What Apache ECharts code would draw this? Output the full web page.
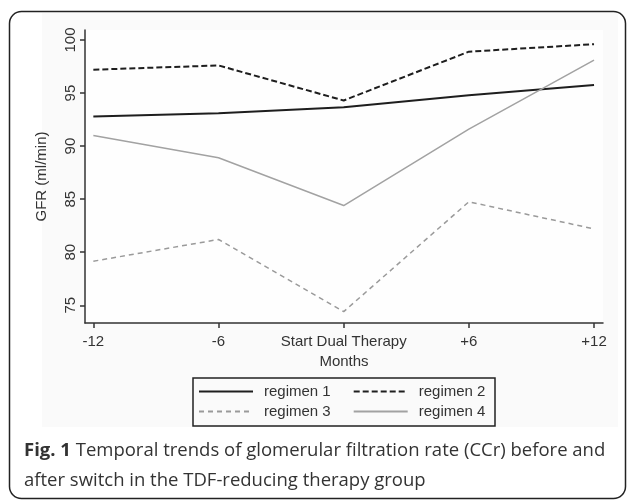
<!DOCTYPE html>
<html>
<head>
<meta charset="utf-8">
<script src="https://cdn.jsdelivr.net/npm/echarts@6/dist/echarts.min.js"></script>
<style>
  html, body { margin: 0; padding: 0; background: #fff; }
  #chart { width: 630px; height: 500px; }
</style>
</head>
<body>
<div id="chart"></div>
<script>
// months relative to switch
var months = [-12, -6, 0, 6, 12];
var monthLabels = ['-12', '-6', 'Start Dual Therapy', '+6', '+12'];
var yTicks = [75, 80, 85, 90, 95, 100];

// GFR (ml/min)
var regimen1 = [92.8, 93.1, 93.65, 94.8, 95.75];
var regimen2 = [97.2, 97.6, 94.3, 98.9, 99.6];
var regimen3 = [79.15, 81.2, 74.4, 84.75, 82.2];
var regimen4 = [91.0, 88.9, 84.4, 91.6, 98.1];

var names = ['regimen 1', 'regimen 2', 'regimen 3', 'regimen 4'];

function pairs(vals) {
  return months.map(function (m, i) { return [m, vals[i]]; });
}

var font = '"Liberation Sans", Arial, sans-serif';

var myChart = echarts.init(document.getElementById('chart'));

var lineCfg = [
  { data: regimen1, color: '#1e1e1e', width: 2, type: 'solid' },
  { data: regimen2, color: '#1e1e1e', width: 2, type: [6, 3] },
  { data: regimen3, color: '#9a9a9a', width: 1.5, type: [5, 4] },
  { data: regimen4, color: '#a2a2a2', width: 1.5, type: 'solid' }
];

// legend rows, no marker symbol, only the line sample
function legendRow(items, top) {
  return {
    data: items, left: 198, top: top, padding: 0,
    itemWidth: 54, itemHeight: 14, itemGap: 22,
    itemStyle: { opacity: 0 },
    textStyle: { fontFamily: font, fontSize: 15, color: '#333', padding: [0, 0, 0, 6] }
  };
}

var option = {
  animation: false,
  backgroundColor: '#fff',
  title: {
    left: 24,
    top: 436,
    padding: 0,
    text: '{b|Fig. 1} Temporal trends of glomerular filtration rate (CCr) before and\nafter switch in the TDF-reducing therapy group',
    textStyle: {
      fontFamily: '"Open Sans", sans-serif',
      fontSize: 18.5,
      fontWeight: 'normal',
      color: '#333',
      lineHeight: 30,
      rich: {
        b: { fontFamily: '"Open Sans", sans-serif', fontSize: 18.5, fontWeight: 'bold', color: '#333', lineHeight: 30 }
      }
    }
  },
  graphic: [
    {
      type: 'rect', z: -10, silent: true,
      shape: { x: 42, y: 13, width: 576, height: 414 },
      style: { fill: '#fafafa' }
    },
    {
      type: 'rect', z: 10, silent: true,
      shape: { x: 9.5, y: 11.5, width: 616, height: 487, r: 12 },
      style: { fill: null, stroke: '#222', lineWidth: 1.5 }
    },
    {
      type: 'rect', z: 10, silent: true,
      shape: { x: 193, y: 378, width: 302, height: 48 },
      style: { fill: null, stroke: '#222', lineWidth: 1.5 }
    }
  ],
  legend: [
    legendRow(names.slice(0, 2), 384),
    legendRow(names.slice(2, 4), 404)
  ],
  grid: {
    left: 85, right: 27, top: 30, bottom: 177,
    show: true, backgroundColor: '#fefefe', borderWidth: 0
  },
  xAxis: {
    type: 'value',
    min: -12.4, max: 12.43,
    name: 'Months',
    nameLocation: 'middle',
    nameGap: 30,
    nameTextStyle: { fontFamily: font, fontSize: 15, color: '#333' },
    axisLine: { onZero: false, lineStyle: { color: '#333', width: 1.5 } },
    axisTick: { length: 5, customValues: months, lineStyle: { color: '#333', width: 1.5 } },
    axisLabel: {
      customValues: months,
      margin: 11,
      fontFamily: font, fontSize: 15, color: '#333',
      formatter: function (v) {
        var i = months.indexOf(v);
        return i >= 0 ? monthLabels[i] : '';
      }
    },
    splitLine: { show: false }
  },
  yAxis: {
    type: 'value',
    min: 73.33, max: 100.94,
    name: 'GFR (ml/min)',
    nameLocation: 'middle',
    nameGap: 36,
    nameTextStyle: { fontFamily: font, fontSize: 15, color: '#333' },
    axisLine: { show: true, onZero: false, lineStyle: { color: '#333', width: 1.5 } },
    axisTick: { show: true, length: 5, customValues: yTicks, lineStyle: { color: '#333', width: 1.5 } },
    axisLabel: {
      customValues: yTicks,
      rotate: 90,
      margin: 7,
      fontFamily: font, fontSize: 15, color: '#333'
    },
    splitLine: { show: false }
  },
  series: lineCfg.map(function (c, i) {
    return {
      name: names[i],
      type: 'line',
      data: pairs(c.data),
      symbol: 'none',
      color: c.color,
      lineStyle: { color: c.color, width: c.width, type: c.type }
    };
  })
};

myChart.setOption(option);
</script>
</body>
</html>
